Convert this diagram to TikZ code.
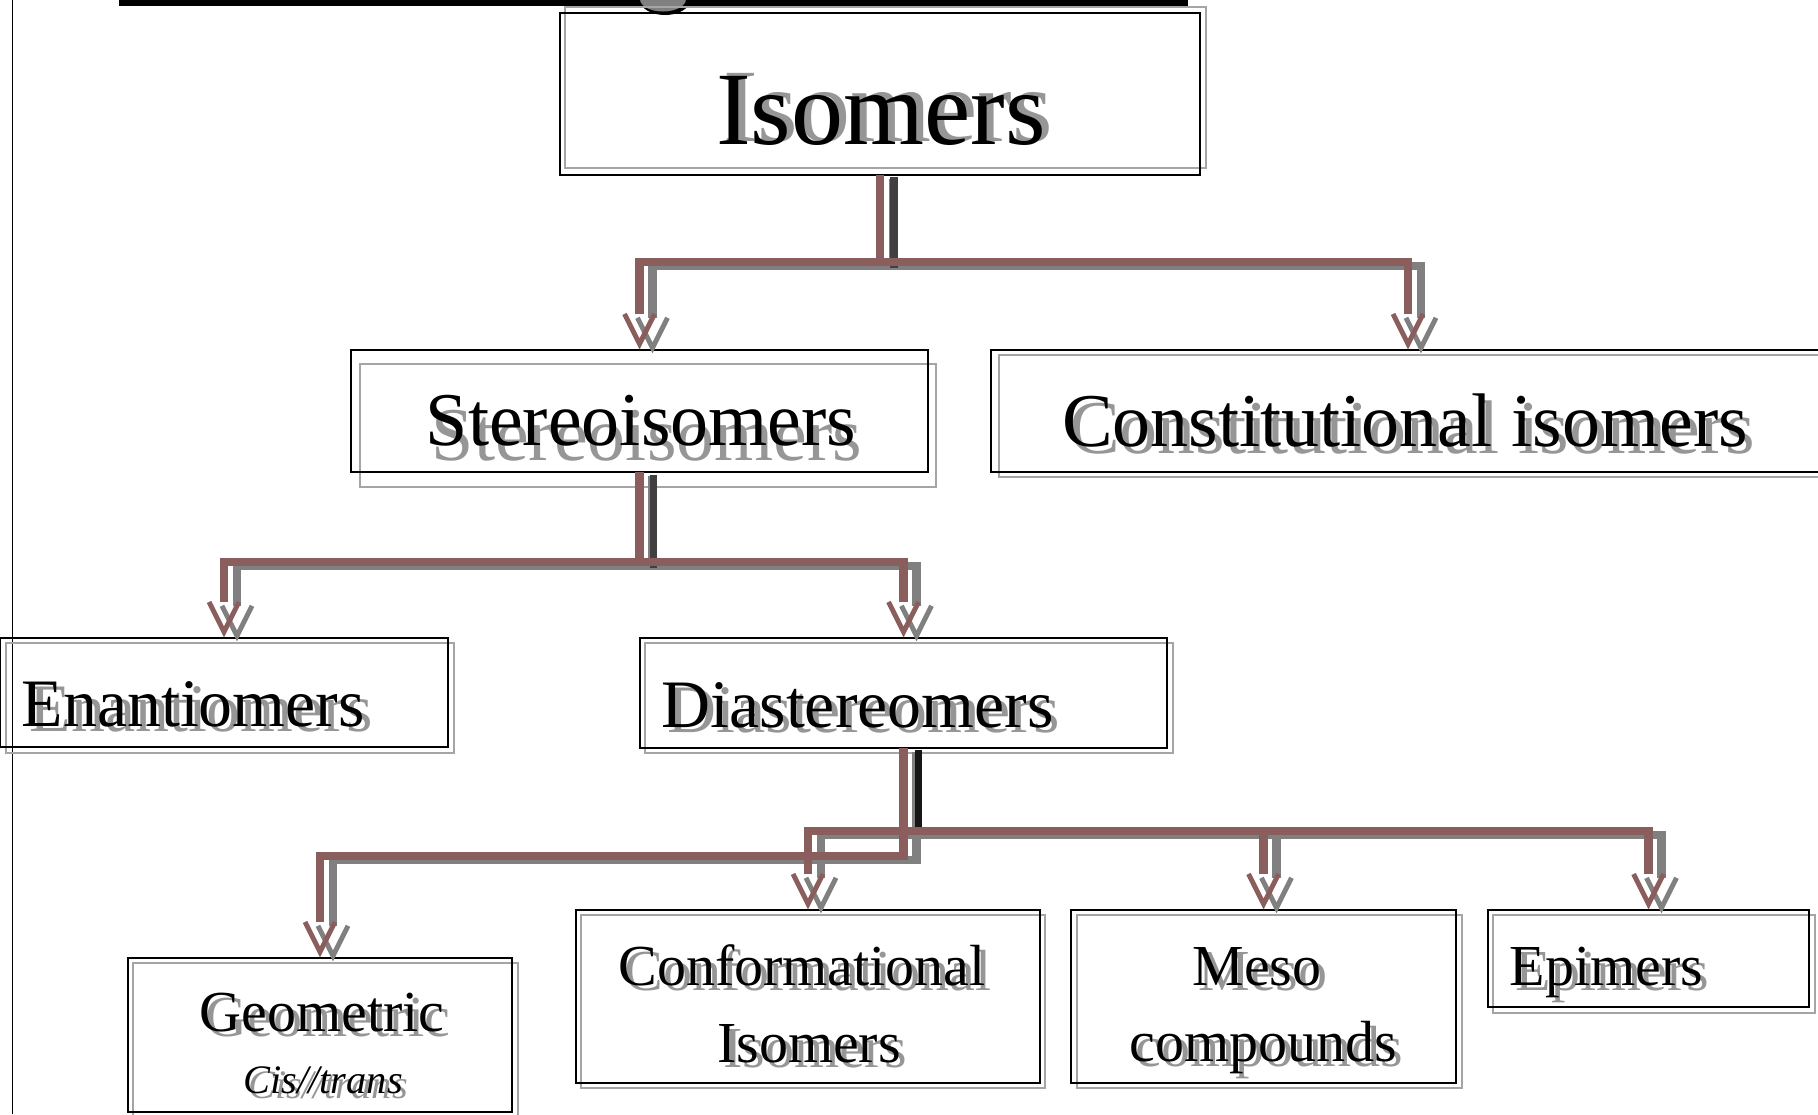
\documentclass[tikz,border=0pt]{standalone}
\usepackage{fontspec}
\setmainfont{Liberation Serif}

\definecolor{linkbrown}{RGB}{139,94,94}
\definecolor{linkshade}{RGB}{128,128,128}
\definecolor{trunkgray}{RGB}{64,64,64}
\definecolor{trunkdark}{RGB}{22,22,22}
\definecolor{boxshade}{RGB}{165,165,165}
\definecolor{textshade}{RGB}{150,150,150}

\tikzset{
  isobox/.style={draw=black, line width=0.7pt, inner sep=0pt, outer sep=0pt},
  isoboxsh/.style={draw=boxshade, line width=0.55pt, inner sep=0pt, outer sep=0pt},
  lbl/.style={inner sep=0pt, anchor=base},
  lblsh/.style={lbl, text=textshade},
  fhuge/.style={font=\fontsize{29.6}{32}\selectfont},
  flarge/.style={font=\fontsize{21.6}{24}\selectfont},
  fmid/.style={font=\fontsize{19.3}{22}\selectfont},
  fsmall/.style={font=\fontsize{16.5}{19}\selectfont},
  ftiny/.style={font=\fontsize{11.5}{13}\selectfont\itshape},
  link/.style={draw=linkbrown, line width=2.3pt, shorten >=3.6mm},
  linksh/.style={link, draw=linkshade},
  trunk/.style={line width=2pt},
  vtip/.pic={\draw[line width=1.4pt, line join=miter] (-15,-30) -- (0,0) -- (15,-30);}
}

\begin{document}
\begin{tikzpicture}[x=0.01cm, y=-0.01cm]
  \useasboundingbox (0,0) rectangle (1818,1114);
  \clip (0,0) rectangle (1818,1114);

  % cut-off title strip and margin line
  \fill[black] (119,0) rectangle (1188,5.5);
  \fill[black] (665,0) ellipse [x radius=2.5mm, y radius=1.5mm];
  \fill[gray] (663,-1) ellipse [x radius=2.3mm, y radius=1.25mm];
  \draw[line width=0.45pt] (12.5,0) -- (12.5,1114);

  % Shadow frames
  \node[isoboxsh, minimum width=64.1mm, minimum height=16.1mm] (iso-sh) at (885.5,87.5) {};
  \node[isoboxsh, minimum width=57.6mm, minimum height=12.3mm] (stereo-sh) at (648,425.5) {};
  \node[isoboxsh, minimum width=83.4mm, minimum height=12.2mm] (const-sh) at (1416,416) {};
  \node[isoboxsh, minimum width=44.8mm, minimum height=11mm] (enan-sh) at (230,698) {};
  \node[isoboxsh, minimum width=52.8mm, minimum height=11mm] (dia-sh) at (909,698) {};
  \node[isoboxsh, minimum width=38.5mm, minimum height=15.4mm] (geo-sh) at (325.5,1040) {};
  \node[isoboxsh, minimum width=46.4mm, minimum height=17.3mm] (conf-sh) at (813,1001.5) {};
  \node[isoboxsh, minimum width=38.5mm, minimum height=17.3mm] (meso-sh) at (1269.5,1001.5) {};
  \node[isoboxsh, minimum width=32.2mm, minimum height=9.8mm] (epi-sh) at (1654,964) {};

  % Frames
  \node[isobox, minimum width=64mm, minimum height=16.2mm] (iso) at (880,94) {};
  \node[isobox, minimum width=57.7mm, minimum height=12.2mm] (stereo) at (639.5,411) {};
  \node[isobox, minimum width=83.4mm, minimum height=12.2mm] (const) at (1408,411) {};
  \node[isobox, minimum width=44.8mm, minimum height=10.9mm] (enan) at (224,692.5) {};
  \node[isobox, minimum width=52.7mm, minimum height=11mm] (dia) at (903.5,693) {};
  \node[isobox, minimum width=38.4mm, minimum height=15.4mm] (geo) at (320,1035) {};
  \node[isobox, minimum width=46.4mm, minimum height=17.3mm] (conf) at (808,996.5) {};
  \node[isobox, minimum width=38.5mm, minimum height=17.3mm] (meso) at (1263.5,996.5) {};
  \node[isobox, minimum width=32.1mm, minimum height=9.7mm] (epi) at (1648.5,958.5) {};

  % Labels, shadow first
  \node[lblsh, fhuge] (iso-ts) at (888,141) {Isomers};
  \node[lbl, fhuge] (iso-t) at (881,144) {Isomers};
  \node[lblsh, flarge] (stereo-ts) at (647,460) {Stereoisomers};
  \node[lbl, flarge] (stereo-t) at (641,445) {Stereoisomers};
  \node[lblsh, flarge] (const-ts) at (1412,453) {Constitutional isomers};
  \node[lbl, flarge] (const-t) at (1405,446) {Constitutional isomers};
  \node[lblsh, fmid, anchor=base west] (enan-ts) at (29,731) {Enantiomers};
  \node[lbl, fmid, anchor=base west] (enan-t) at (21,726) {Enantiomers};
  \node[lblsh, fmid, anchor=base west] (dia-ts) at (667,732) {Diastereomers};
  \node[lbl, fmid, anchor=base west] (dia-t) at (661,727) {Diastereomers};
  \node[lblsh, fsmall] (geo-ts) at (328,1036) {Geometric};
  \node[lbl, fsmall] (geo-t) at (322,1031) {Geometric};
  \node[lblsh, ftiny] (cis-ts) at (328,1098) {Cis//trans};
  \node[lbl, ftiny] (cis-t) at (323,1093) {Cis//trans};
  \node[lblsh, fsmall] (conf-ts) at (808,990) {Conformational};
  \node[lbl, fsmall] (conf-t) at (802,985) {Conformational};
  \node[lblsh, fsmall] (conf-ts2) at (815,1067) {Isomers};
  \node[lbl, fsmall] (conf-t2) at (809,1062) {Isomers};
  \node[lblsh, fsmall] (meso-ts) at (1263,990) {Meso};
  \node[lbl, fsmall] (meso-t) at (1257,985) {Meso};
  \node[lblsh, fsmall] (meso-ts2) at (1269,1066) {compounds};
  \node[lbl, fsmall] (meso-t2) at (1263,1061) {compounds};
  \node[lblsh, fsmall, anchor=base west] (epi-ts) at (1515,990) {Epimers};
  \node[lbl, fsmall, anchor=base west] (epi-t) at (1509,985) {Epimers};

  % Links: shadow, trunks, then brown
  \begin{scope}[transform canvas={xshift=3.7pt, yshift=-1.1pt}]
    \foreach \a/\d/\b in {iso/87/stereo, iso/87/const, stereo/90/enan, stereo/90/dia,
                          dia/108/geo, dia/83/conf, dia/83/meso, dia/83/epi} {
      \draw[linksh] (\a.south) -- ++(0,\d) -| (\b.north);
      \pic[color=linkshade] at ([shift={(0,-6)}]\b.north) {vtip};
    }
  \end{scope}
  \draw[trunk, draw=trunkgray] ([shift={(14,2)}]iso.south) -- ++(0,91);
  \draw[trunk, draw=trunkgray] ([shift={(14,3)}]stereo.south) -- ++(0,93);
  \draw[trunk, draw=trunkdark] ([shift={(15,2)}]dia.south) -- ++(0,79);
  \foreach \a/\d/\b in {iso/87/stereo, iso/87/const, stereo/90/enan, stereo/90/dia,
                        dia/108/geo, dia/83/conf, dia/83/meso, dia/83/epi} {
    \draw[link] (\a.south) -- ++(0,\d) -| (\b.north);
    \pic[color=linkbrown] at ([shift={(0,-6)}]\b.north) {vtip};
  }
\end{tikzpicture}
\end{document}
